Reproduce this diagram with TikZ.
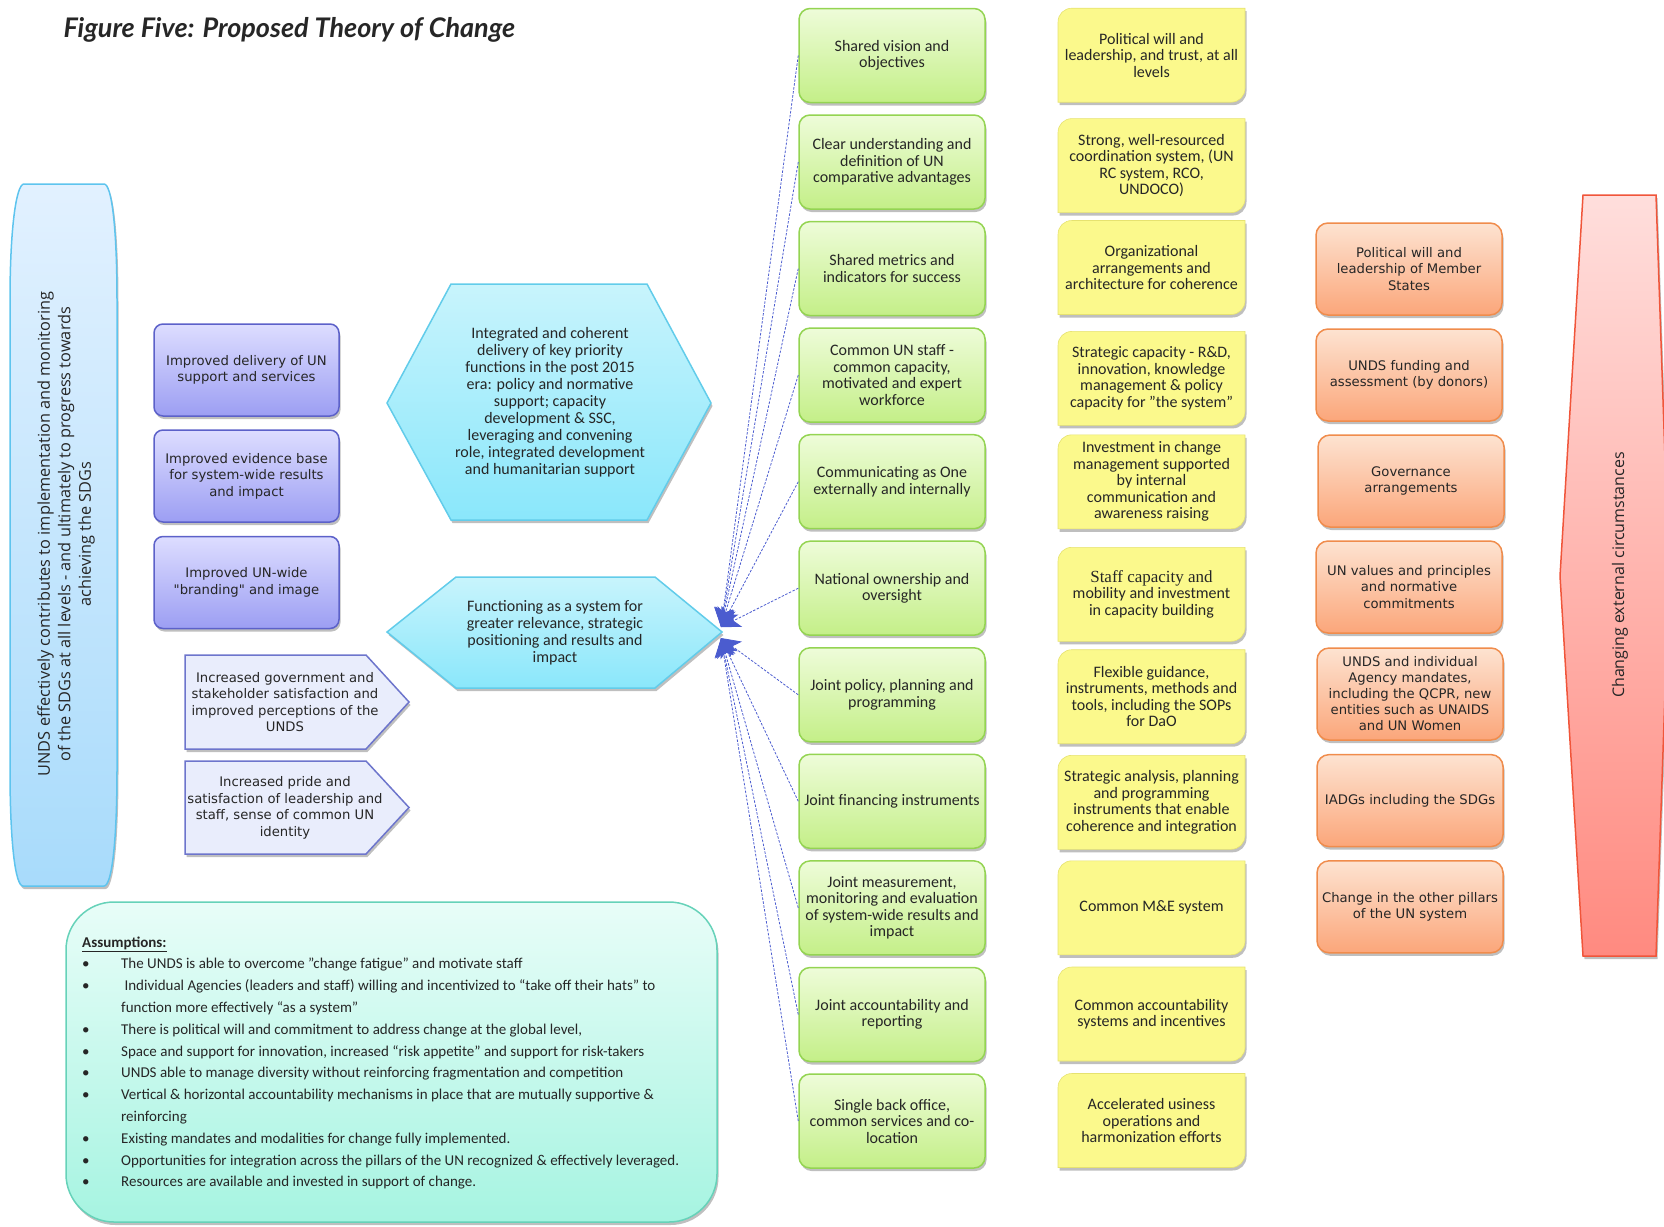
\documentclass[tikz,border=0pt]{standalone}
\usepackage{fontspec}
\setmainfont{Carlito}
\newfontfamily\verd{DejaVu Sans}
\newfontfamily\opsans{Open Sans}
\newfontfamily\latofont{Lato}
\newfontfamily\serfont{Liberation Serif}
\usetikzlibrary{shadows,arrows.meta}
\definecolor{txt}{HTML}{262626}
\definecolor{grnT}{HTML}{EEFCD9}
\definecolor{grnBot}{HTML}{C4EF88}
\definecolor{grnB}{HTML}{94D452}
\definecolor{yel}{HTML}{FBF98C}
\definecolor{yelB}{HTML}{E6E270}
\definecolor{orT}{HTML}{FDE3D1}
\definecolor{orBot}{HTML}{FBA67A}
\definecolor{orB}{HTML}{F08C4C}
\definecolor{purT}{HTML}{DDDDFF}
\definecolor{purBot}{HTML}{9C9EF3}
\definecolor{purB}{HTML}{5C61C9}
\definecolor{lav}{HTML}{E9EDFC}
\definecolor{lavB}{HTML}{6D75CC}
\definecolor{hexT}{HTML}{C8F4FC}
\definecolor{hexBot}{HTML}{8AE7FB}
\definecolor{hexB}{HTML}{62CCEA}
\definecolor{lbT}{HTML}{E2F1FF}
\definecolor{lbBot}{HTML}{A8DBFB}
\definecolor{lbB}{HTML}{5EC4EE}
\definecolor{rdT}{HTML}{FFDEDC}
\definecolor{rdBot}{HTML}{FF8A80}
\definecolor{rdB}{HTML}{F0553A}
\definecolor{asT}{HTML}{E8FDF8}
\definecolor{asBot}{HTML}{A6F4E1}
\definecolor{asB}{HTML}{66D2B9}
\definecolor{connC}{HTML}{4B5CCF}
\newcommand\gfont{\fontsize{16}{16.5}\selectfont}
\newcommand\vfont{\verd\fontsize{13.2}{16.5}\selectfont}
\newcommand\ybox[4]{%
  \path[yshape] (#2-93.5,#3+47) -- (#2-93.5,#3-33) .. controls (#2-93.5,#3-41) and (#2-87.5,#3-47) .. (#2-79.5,#3-47) -- (#2+93.5,#3-47) -- (#2+93.5,#3+33) .. controls (#2+93.5,#3+41) and (#2+87.5,#3+47) .. (#2+79.5,#3+47) -- cycle;
  \node[ytext] (#1) at (#2,#3) {#4};}
\begin{document}
\begin{tikzpicture}[x=1pt,y=-1pt,
  shad/.style={drop shadow={shadow xshift=1.5pt,shadow yshift=-3pt,opacity=.25,fill=black}},
  gbox/.style={rectangle,rounded corners=11pt,minimum width=186pt,minimum height=94pt,draw=grnB,line width=1.5pt,top color=grnT,bottom color=grnBot,shad,align=center,font=\gfont,text=txt,inner sep=2pt},
  yshape/.style={fill=yel,draw=yelB,line width=0.6pt,shad},
  ytext/.style={align=center,font=\gfont,text=txt,inner sep=2pt},
  pbox/.style={rectangle,rounded corners=9pt,minimum width=185pt,minimum height=92pt,draw=purB,line width=1.5pt,top color=purT,bottom color=purBot,shad,align=center,font=\vfont,text=txt,inner sep=2pt},
  obox/.style={rectangle,rounded corners=12pt,minimum width=186pt,minimum height=92pt,draw=orB,line width=1.5pt,top color=orT,bottom color=orBot,shad,align=center,font=\vfont,text=txt,inner sep=2pt},
  lavshape/.style={fill=lav,draw=lavB,line width=1.5pt,shad},
  hexshape/.style={draw=hexB,line width=1.5pt,top color=hexT,bottom color=hexBot,shad},
  conn/.style={draw=connC,line width=0.8pt,dash pattern=on 2.5pt off 1.5pt,-{Stealth[length=19pt,width=19pt,inset=5pt]}}]
\useasboundingbox (0,0) rectangle (1664,1226);

% title
\node[anchor=west,font=\latofont\bfseries\itshape\fontsize{27}{32}\selectfont,text=txt] (title) at (60,30) {Figure Five: Proposed Theory of Change};

% left goal shape
\path[draw=lbB,line width=1.5pt,top color=lbT,bottom color=lbBot,shad]
  (24,184) -- (104,184) .. controls (112,184) and (117,230) .. (117,300) -- (117,770)
  .. controls (117,840) and (112,886) .. (104,886) -- (23,886)
  .. controls (15,886) and (10,840) .. (10,770) -- (10,300)
  .. controls (10,230) and (16,184) .. (24,184) -- cycle;
\node[rotate=90,align=center,font=\opsans\fontsize{16.3}{20.5}\selectfont,text=txt] (goal) at (66,534)
  {UNDS effectively contributes to implementation and monitoring\\of the SDGs at all levels - and ultimately to progress towards\\achieving the SDGs};

% purple boxes
\node[pbox] (p1) at (246.5,370) {Improved delivery of UN\\support and services};
\node[pbox] (p2) at (246.5,476) {Improved evidence base\\for system-wide results\\and impact};
\node[pbox] (p3) at (246.5,582.5) {Improved UN-wide\\"branding" and image};

% lavender arrow boxes
\path[lavshape] (185,655) -- (366,655) -- (409,702) -- (366,749) -- (185,749) -- cycle;
\node[align=center,font=\vfont,text=txt] (l1) at (285,702) {Increased government and\\stakeholder satisfaction and\\improved perceptions of the\\UNDS};
\path[lavshape] (185,761) -- (366,761) -- (409,807.5) -- (366,854) -- (185,854) -- cycle;
\node[align=center,font=\vfont,text=txt] (l2) at (285,808) {Increased pride and\\satisfaction of leadership and\\staff, sense of common UN\\identity};

% hexagons
\path[hexshape] (451,284) -- (647,284) -- (711,403) -- (647,520) -- (451,520) -- (387,403) -- cycle;
\node[align=center,font=\fontsize{16}{17}\selectfont,text=txt] (hexA) at (550,402)
  {Integrated and coherent\\delivery of key priority\\functions in the post 2015\\era: policy and normative\\support; capacity\\development \& SSC,\\leveraging and convening\\role, integrated development\\and humanitarian support};
\path[hexshape] (456,577) -- (655,577) -- (722,632) -- (655,688) -- (456,688) -- (387,632) -- cycle;
\node[align=center,font=\fontsize{16}{17}\selectfont,text=txt] (hexB) at (555,633)
  {Functioning as a system for\\greater relevance, strategic\\positioning and results and\\impact};
\coordinate (tipU) at (721,627);
\coordinate (tipL) at (721,638);

% assumptions
\path[draw=asB,line width=1.5pt,top color=asT,bottom color=asBot,rounded corners=48pt,shad] (66,902) rectangle (717,1222);
\node[anchor=base west,font=\fontsize{15}{21.8}\selectfont,text=txt,inner sep=0pt] (asm) at (82,947)
  {\begin{tabular}[t]{@{}p{39pt}@{}l@{}}
  \multicolumn{2}{@{}l@{}}{\textbf{\underline{Assumptions:}}}\\
  \textbullet & The UNDS is able to overcome "change fatigue" and motivate staff\\
  \textbullet & \ Individual Agencies (leaders and staff) willing and incentivized to “take off their hats” to\\
   & function more effectively “as a system”\\
  \textbullet & There is political will and commitment to address change at the global level,\\
  \textbullet & Space and support for innovation, increased “risk appetite” and support for risk-takers\\
  \textbullet & UNDS able to manage diversity without reinforcing fragmentation and competition\\
  \textbullet & Vertical \& horizontal accountability mechanisms in place that are mutually supportive \&\\
   & reinforcing\\
  \textbullet & Existing mandates and modalities for change fully implemented.\\
  \textbullet & Opportunities for integration across the pillars of the UN recognized \& effectively leveraged.\\
  \textbullet & Resources are available and invested in support of change.
  \end{tabular}};

% green boxes
\node[gbox] (g1) at (892,55.5) {Shared vision and\\objectives};
\node[gbox] (g2) at (892,162) {Clear understanding and\\definition of UN\\comparative advantages};
\node[gbox] (g3) at (892,268.6) {Shared metrics and\\indicators for success};
\node[gbox] (g4) at (892,375.1) {Common UN staff -\\common capacity,\\motivated and expert\\workforce};
\node[gbox] (g5) at (892,481.7) {Communicating as One\\externally and internally};
\node[gbox] (g6) at (892,588.2) {National ownership and\\oversight};
\node[gbox] (g7) at (892,694.8) {Joint policy, planning and\\programming};
\node[gbox] (g8) at (892,801.3) {Joint financing instruments};
\node[gbox] (g9) at (892,907.9) {Joint measurement,\\monitoring and evaluation\\of system-wide results and\\impact};
\node[gbox] (g10) at (892,1014.5) {Joint accountability and\\reporting};
\node[gbox] (g11) at (892,1121) {Single back office,\\common services and co-\\location};

% connectors
\foreach \i in {1,...,6} \draw[conn] (g\i.west) -- (tipU);
\foreach \i in {7,...,11} \draw[conn] (g\i.west) -- (tipL);

% yellow boxes
\ybox{y1}{1151.5}{55.2}{Political will and\\leadership, and trust, at all\\levels}
\ybox{y2}{1151.5}{165.6}{Strong, well-resourced\\coordination system, (UN\\RC system, RCO,\\UNDOCO)}
\ybox{y3}{1151.5}{267.5}{Organizational\\arrangements and\\architecture for coherence}
\ybox{y4}{1151.5}{378.4}{Strategic capacity - R\&D,\\innovation, knowledge\\management \& policy\\capacity for "the system"}
\ybox{y5}{1151.5}{481.8}{Investment in change\\management supported\\by internal\\communication and\\awareness raising}
\ybox{y6}{1151.5}{594.3}{\serfont\fontsize{17}{17}\selectfont Staff capacity and\\mobility and investment\\in capacity building}
\ybox{y7}{1151.5}{696.7}{Flexible guidance,\\instruments, methods and\\tools, including the SOPs\\for DaO}
\ybox{y8}{1151.5}{802.3}{Strategic analysis, planning\\and programming\\instruments that enable\\coherence and integration}
\ybox{y9}{1151.5}{907.8}{Common M\&E system}
\ybox{y10}{1151.5}{1014}{Common accountability\\systems and incentives}
\ybox{y11}{1151.5}{1120.5}{Accelerated usiness\\operations and\\harmonization efforts}

% orange boxes
\node[obox] (o1) at (1409,269) {Political will and\\leadership of Member\\States};
\node[obox] (o2) at (1409,375) {UNDS funding and\\assessment (by donors)};
\node[obox] (o3) at (1411,481) {Governance\\arrangements};
\node[obox] (o4) at (1409,587) {UN values and principles\\and normative\\commitments};
\node[obox,font=\verd\fontsize{13.2}{16}\selectfont] (o5) at (1410,694) {UNDS and individual\\Agency mandates,\\including the QCPR, new\\entities such as UNAIDS\\and UN Women};
\node[obox] (o6) at (1410,800.6) {IADGs including the SDGs};
\node[obox] (o7) at (1410,906.8) {Change in the other pillars\\of the UN system};

% red shape
\path[draw=rdB,line width=1.5pt,top color=rdT,bottom color=rdBot,shad]
  (1583,195) -- (1656,195) -- (1669,576) -- (1656,956) -- (1583,956) -- (1560,576) -- cycle;
\node[rotate=90,font=\opsans\fontsize{16}{20}\selectfont,text=txt] (ext) at (1620,575) {Changing external circumstances};
\end{tikzpicture}
\end{document}
